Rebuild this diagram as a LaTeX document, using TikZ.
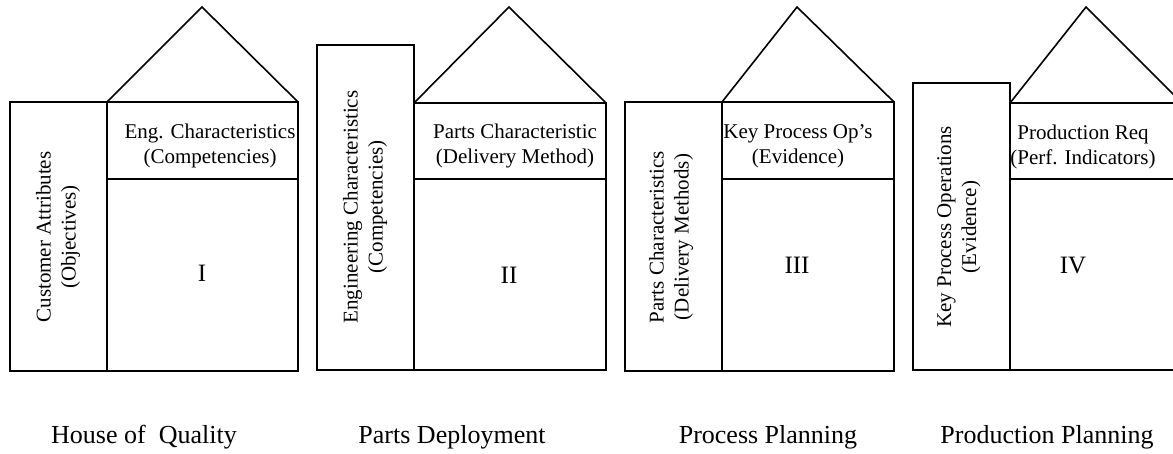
\documentclass[tikz,border=0pt]{standalone}
\usepackage{fontspec}
\setmainfont{Liberation Serif}
\tikzset{
  house/.style={line width=1.6pt},
  celltext/.style={align=center, inner sep=0pt, font=\fontsize{21}{25}\selectfont},
  sidetext/.style={celltext, rotate=90},
  numeral/.style={inner sep=0pt, font=\fontsize{25}{30}\selectfont},
  stagename/.style={anchor=base, inner sep=0pt, font=\fontsize{26}{30}\selectfont}
}

\begin{document}
\begin{tikzpicture}[x=1pt,y=-1pt]
  \useasboundingbox (0,0) rectangle (1173,453);
  \clip (0,0) rectangle (1173,453);

  % house 1
  \draw[house] (10,102) rectangle (107,371);
  \draw[house] (107,102) rectangle (298,371);
  \draw[house] (107,179) -- (298,179);
  \draw[house] (107,102) -- (202,7) -- (298,102);
  \node[sidetext] (custattr) at (58,237) {Customer Attributes\\(Objectives)};
  \node[celltext] (engchar) at (210,146) {Eng. Characteristics\\(Competencies)};
  \node[numeral] (numI) at (202,273) {I};
  \node[stagename] (hoq) at (144,443) {House of\ \ Quality};

  % house 2
  \draw[house] (317,45) rectangle (414,370);
  \draw[house] (414,103) rectangle (606,370);
  \draw[house] (414,179) -- (606,179);
  \draw[house] (414,103) -- (509,7) -- (606,103);
  \node[sidetext] (engchartwo) at (365,207) {Engineering Characteristics\\(Competencies)};
  \node[celltext] (partschar) at (515,146) {Parts Characteristic\\(Delivery Method)};
  \node[numeral] (numII) at (509,275) {II};
  \node[stagename] (partsdep) at (452,443) {Parts Deployment};

  % house 3
  \draw[house] (625,102) rectangle (722,371);
  \draw[house] (722,102) rectangle (894,371);
  \draw[house] (722,179) -- (894,179);
  \draw[house] (722,102) -- (797,7) -- (894,102);
  \node[sidetext] (partscharthree) at (671,237) {Parts Characteristics\\(Delivery Methods)};
  \node[celltext] (keyop) at (798,146) {Key Process Op’s\\(Evidence)};
  \node[numeral] (numIII) at (797,265) {III};
  \node[stagename] (procplan) at (768,443) {Process Planning};

  % house 4
  \draw[house] (913,83) rectangle (1010,370);
  \draw[house] (1010,103) rectangle (1182,370);
  \draw[house] (1010,179) -- (1182,179);
  \draw[house] (1010,103) -- (1086,7) -- (1182,103);
  \node[sidetext] (keyops) at (959,227) {Key Process Operations\\(Evidence)};
  \node[celltext] (prodreq) at (1083,147) {Production Req\\(Perf. Indicators)};
  \node[numeral] (numIV) at (1073,265) {IV};
  \node[stagename] (prodplan) at (1047,443) {Production Planning};
\end{tikzpicture}
\end{document}
